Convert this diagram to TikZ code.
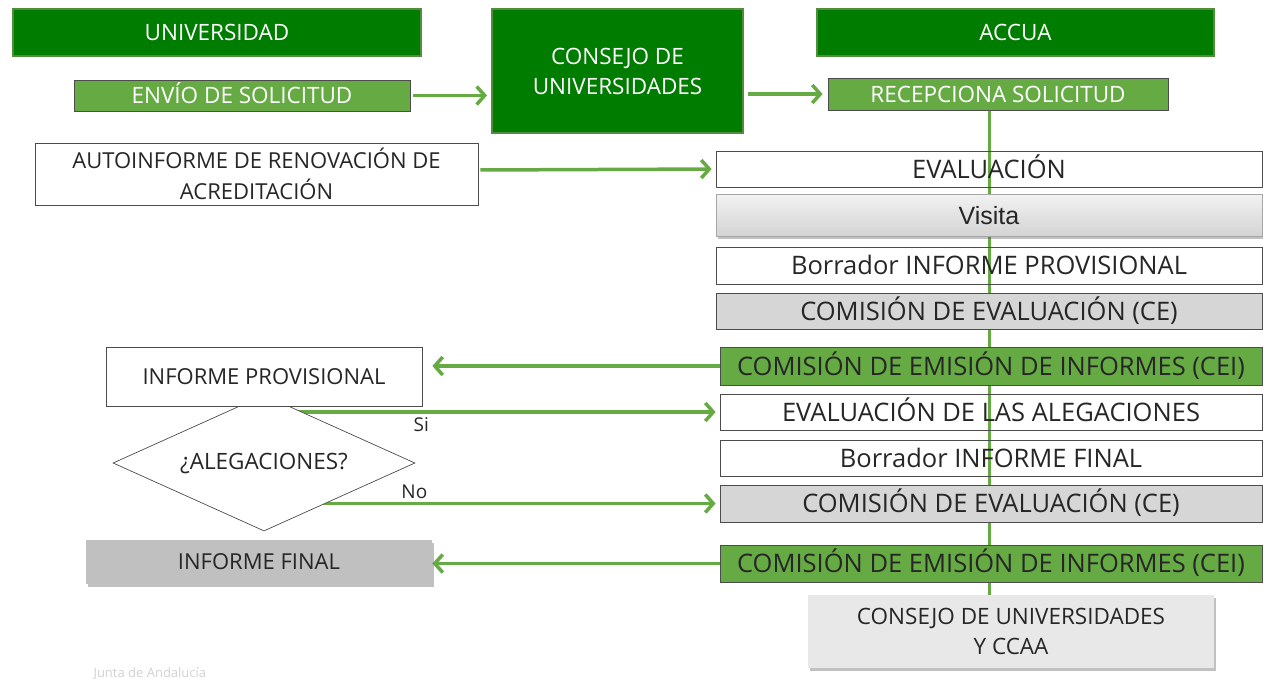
\documentclass[tikz,border=0pt]{standalone}
\usepackage{fontspec}
\setmainfont{Open Sans}
\newfontfamily\arialfont{Liberation Sans}
\usetikzlibrary{shapes.geometric,arrows.meta,shadows,backgrounds}

\definecolor{dkgreen}{RGB}{0,124,0}
\definecolor{dkedge}{RGB}{84,140,62}
\definecolor{mdgreen}{RGB}{102,170,68}
\definecolor{txt}{RGB}{38,38,38}
\definecolor{cegray}{RGB}{214,214,214}
\definecolor{fingray}{RGB}{192,192,192}
\definecolor{ccaagray}{RGB}{232,232,232}

\tikzset{
    box/.style = {rectangle, draw = black!70, line width = 0.8pt, inner sep = 0pt,
                  align = center, text = txt},
    head/.style = {box, draw = dkedge, line width = 2pt, fill = dkgreen, text = white,
                   font = \fontsize{22.5}{30}\selectfont},
    send/.style = {box, fill = mdgreen, text = white, font = \fontsize{22.5}{26}\selectfont,
                   text height = 16pt, text depth = 0pt},
    side/.style = {box, font = \fontsize{22}{31}\selectfont},
    stage/.style = {box, minimum width = 546pt, font = \fontsize{25.5}{28}\selectfont,
                    text height = 18pt, text depth = 0pt},
    stagetwo/.style = {stage, minimum width = 542pt},
    shade/.style = {drop shadow = {shadow xshift = 2pt, shadow yshift = -3pt,
                    opacity = 0.35, fill = black!70}},
    flow/.style = {draw = mdgreen, line width = 3.5pt,
                   -{Straight Barb[length = 8pt, width = 18pt]}},
    spine/.style = {draw = mdgreen, line width = 3pt}
}

\begin{document}
\begin{tikzpicture}[x = 1pt, y = -1pt]
    \useasboundingbox (0, 0) rectangle (1263, 678);

    % columns
    \node (univ) [head, minimum width = 408pt, minimum height = 47pt] at (217, 32.5) {UNIVERSIDAD};
    \node (consejo) [head, minimum width = 251pt, minimum height = 124pt] at (617.5, 71) {CONSEJO DE\\UNIVERSIDADES};
    \node (accua) [head, minimum width = 397pt, minimum height = 47pt] at (1015.5, 32.5) {ACCUA};

    \node (envio) [send, minimum width = 336pt, minimum height = 31pt] at (242, 95.5) {ENVÍO DE SOLICITUD};
    \node (recep) [send, minimum width = 340pt, minimum height = 32pt] at (998, 94) {RECEPCIONA SOLICITUD};
    \node (auto) [side, minimum width = 443pt, minimum height = 62pt] at (256.5, 174) {AUTOINFORME DE RENOVACIÓN DE\\ACREDITACIÓN};

    % ACCUA steps
    \node (eval) [stage, minimum height = 36pt] at (989, 169) {EVALUACIÓN};
    \node (visita) [stage, draw = black!35, top color = black!5, bottom color = black!17, shade,
                    minimum height = 42pt, font = \arialfont\fontsize{25}{28}\selectfont] at (989, 215) {Visita};
    \node (borrprov) [stage, minimum height = 37pt] at (989, 265.5) {Borrador INFORME PROVISIONAL};
    \node (ceone) [stage, fill = cegray, minimum height = 36pt] at (989, 311) {COMISIÓN DE EVALUACIÓN (CE)};
    \node (ceione) [stagetwo, fill = mdgreen, minimum height = 38pt] at (991, 366) {COMISIÓN DE EMISIÓN DE INFORMES (CEI)};
    \node (alegeval) [stagetwo, minimum height = 36pt] at (991, 412) {EVALUACIÓN DE LAS ALEGACIONES};
    \node (borrfin) [stagetwo, minimum height = 36pt] at (991, 458) {Borrador INFORME FINAL};
    \node (cetwo) [stagetwo, fill = cegray, minimum height = 37pt] at (991, 503.5) {COMISIÓN DE EVALUACIÓN (CE)};
    \node (ceitwo) [stagetwo, fill = mdgreen, minimum height = 37pt] at (991, 563.5) {COMISIÓN DE EMISIÓN DE INFORMES (CEI)};
    \node (ccaa) [box, draw = none, fill = ccaagray, shade, minimum width = 406pt, minimum height = 73pt,
                  font = \fontsize{22.5}{30}\selectfont] at (1011, 631.5) {CONSEJO DE UNIVERSIDADES\\Y CCAA};

    % university side
    \node (alega) [shape = diamond, aspect = 2.22, draw = black!70, line width = 0.7pt, fill = white, inner sep = 0pt,
                   minimum width = 302pt, minimum height = 136pt, text = txt,
                   font = \fontsize{22.5}{26}\selectfont] at (264, 463) {¿ALEGACIONES?};
    \node (infprov) [side, fill = white, minimum width = 316pt, minimum height = 59pt] at (264, 376.5) {INFORME PROVISIONAL};
    \node (inffin) [side, draw = none, fill = fingray, shade, minimum width = 346pt, minimum height = 44pt] at (259, 562) {INFORME FINAL};

    \node (junta) [anchor = base west, text = black!18, font = \fontsize{13}{15}\selectfont] at (90, 677) {Junta de Andalucía};

    \begin{scope}[on background layer]
        \draw[spine] (recep.south -| eval.north) -- (ccaa.north -| eval.north);
        \draw[flow, shorten < = 3pt, shorten > = 4pt] (envio.east) -- (envio.east -| consejo.west);
        \draw[flow, shorten < = 4pt, shorten > = 5pt] (consejo.east |- recep.west) -- (recep.west);
        \draw[flow, shorten < = 2pt, shorten > = 4pt] ([yshift = 4pt]auto.east) -- (eval.west);
        \draw[flow, shorten > = 10pt] (ceione.west) -- (ceione.west -| infprov.east);
        \draw[flow, shorten > = 4pt] (alega.center |- alegeval.west) -- (alegeval.west)
            node [pos = 0.345, below, font = \fontsize{19}{22}\selectfont, text = txt] (si) {Si};
        \draw[flow, shorten > = 4pt] (alega.center |- cetwo.west) -- (cetwo.west)
            node [pos = 0.33, above, font = \fontsize{19}{22}\selectfont, text = txt] (no) {No};
        \draw[flow] (ceitwo.west) -- (ceitwo.west -| inffin.east);
    \end{scope}
\end{tikzpicture}
\end{document}
